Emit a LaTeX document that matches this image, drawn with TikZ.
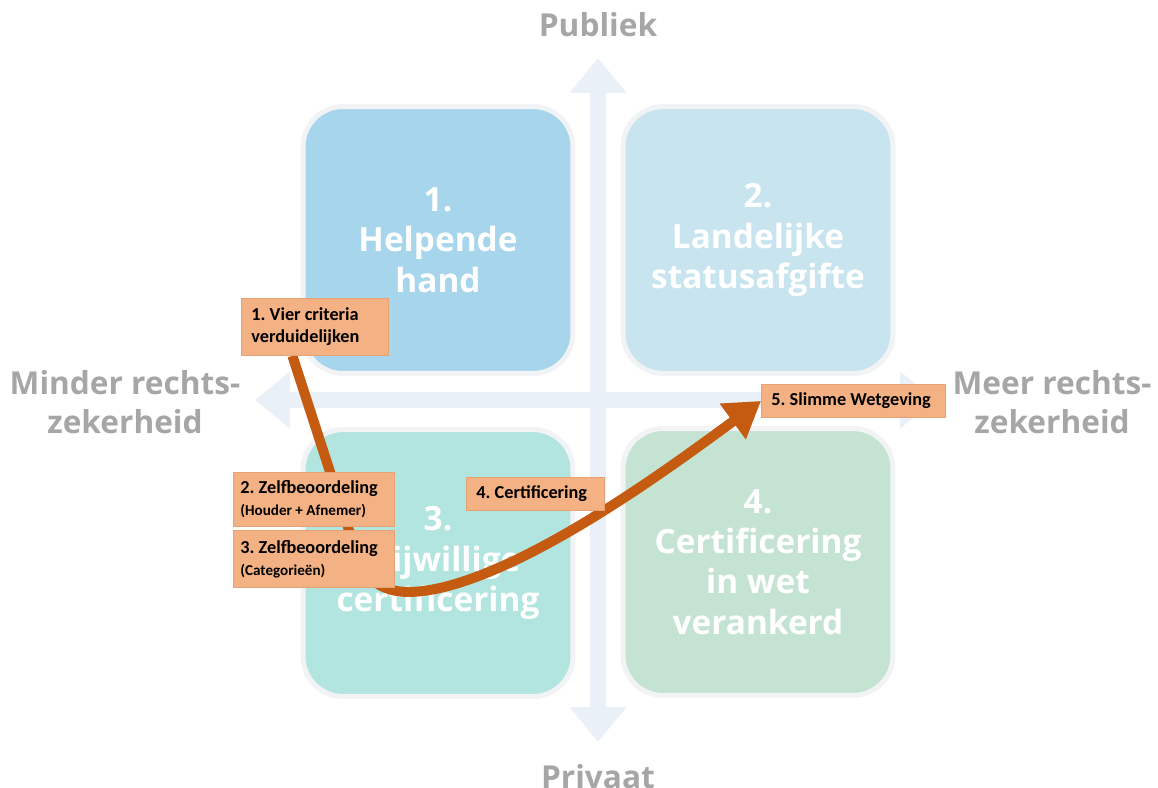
\documentclass[tikz,border=0pt]{standalone}
\usepackage{fontspec}
\usepackage{xcolor}
\usetikzlibrary{arrows.meta,
	calc}
\newfontfamily\headfont{Open Sans}
\newfontfamily\tagfont{Carlito}
\definecolor{helpblue}{HTML}{A7D5EC}
\definecolor{landblue}{HTML}{C8E4EE}
\definecolor{vrijteal}{HTML}{B3E5E0}
\definecolor{wetgreen}{HTML}{C5E3D3}
\definecolor{axisblue}{HTML}{EAF0F8}
\definecolor{axisgray}{HTML}{A6A6A6}
\definecolor{halo}{HTML}{F1F3F5}
\definecolor{peach}{HTML}{F4B183}
\definecolor{peachline}{HTML}{E5A273}
\definecolor{rust}{HTML}{C55A11}
\tikzstyle{quadrant}=[draw=halo, line width=0.1cm, rounded corners=0.8cm,
		minimum width=5.4cm, minimum height=5.34cm, text=white, align=center,
		font=\headfont\bfseries\fontsize{19}{23}\selectfont]
\tikzstyle{axis}=[draw=axisblue, line width=0.32cm,
		{Triangle[length=0.7cm,width=1.1cm]}-{Triangle[length=0.7cm,width=1.1cm]}]
\tikzstyle{axlabel}=[text=axisgray, align=center,
		font=\headfont\bfseries\fontsize{18}{22}\selectfont]
\tikzstyle{tag}=[fill=peach, draw=peachline, line width=0.5pt, anchor=north west,
		align=flush left, inner xsep=0.2cm, inner ysep=0pt,
		font=\tagfont\bfseries\frenchspacing\fontsize{10.4}{12.5}\selectfont]
\tikzstyle{route}=[draw=rust, line width=0.2cm,
		-{Triangle[length=0.7cm,width=0.84cm]}]
\newcommand{\subtag}[1]{{\fontsize{8.6}{11}\selectfont #1}}
\pgfdeclarelayer{back}
\pgfdeclarelayer{mid}
\pgfsetlayers{back,mid,main}

\begin{document}
\begin{tikzpicture}[x=0.02cm,y=-0.02cm]
	\useasboundingbox (0,0) rectangle (1158,787);
	\begin{pgfonlayer}{back}
		% axes
		\coordinate (ntip) at (598,58);
		\coordinate (stip) at (598,742);
		\coordinate (wtip) at (255,400);
		\coordinate (etip) at (935,400);
		\draw[axis] (ntip) -- (stip);
		\draw[axis] (wtip) -- (etip);
		\node[axlabel] (pub) at (598,25) {Publiek};
		\node[axlabel] (priv) at (598,777) {Privaat};
		\node[axlabel] (minder) at (125,402) {Minder rechts-\\zekerheid};
		\node[axlabel] (meer) at (1052,402) {Meer rechts-\\zekerheid};
		% quadrants
		\node[quadrant, fill=helpblue] (q1) at (438,240) {1.\\Helpende\\hand};
		\node[quadrant, fill=landblue] (q2) at (758,240) {2.\\Landelijke\\statusafgifte};
		\node[quadrant, fill=vrijteal] (q3) at (438,563) {3.\\Vrijwillige\\certificering};
		\node[quadrant, fill=wetgreen] (q4) at (758,562) {4.\\Certificering\\in wet\\verankerd};
	\end{pgfonlayer}
	% steps
	\node[tag, text width=2.54cm, minimum height=1.14cm] (l1) at (241,298)
		{1. Vier criteria\\verduidelijken};
	\node[tag, inner xsep=0.14cm, text width=2.94cm, minimum height=1.08cm] (l2) at (233,472)
		{2. Zelfbeoordeling\\\subtag{(Houder + Afnemer)}};
	\node[tag, inner xsep=0.14cm, text width=2.94cm, minimum height=1.14cm] (l3) at (233,530)
		{3. Zelfbeoordeling\\\subtag{(Categorieën)}};
	\node[tag, text width=2.36cm, minimum height=0.66cm] (l4) at (466,477) {4. Certificering};
	\node[tag, text width=3.28cm, minimum height=0.66cm] (l5) at (761,384) {5. Slimme Wetgeving};
	\begin{pgfonlayer}{mid}
		\draw[route] ([xshift=-0.45cm]l1.south) -- (356,552)
			.. controls (368,590) and (395,598) .. (440,588)
			.. controls (540,565) and (680,460) .. (l5.west);
	\end{pgfonlayer}
\end{tikzpicture}
\end{document}
